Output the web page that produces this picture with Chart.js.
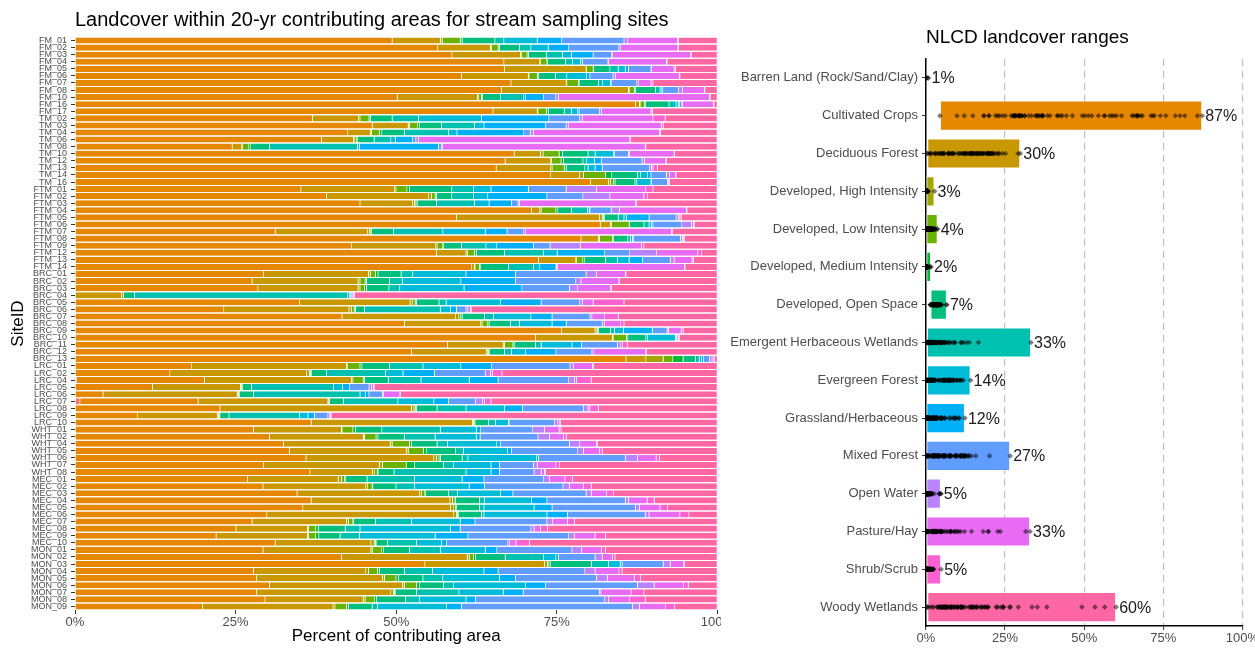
<!DOCTYPE html>
<html>
<head>
<meta charset="utf-8">
<script src="https://cdn.jsdelivr.net/npm/chart.js@4.4.0/dist/chart.umd.min.js"></script>
<style>
  html, body { margin: 0; padding: 0; background: #fff; overflow: hidden; width: 1255px; height: 649px; }
  #leftWrap { position: absolute; left: 0; top: 0; width: 721px; height: 649px; overflow: hidden; }
  #rightWrap { position: absolute; left: 722px; top: 0; width: 533px; height: 649px; overflow: hidden; }
  canvas { position: absolute; left: 0; top: 0; }
</style>
</head>
<body>
<div id="leftWrap"><canvas id="stack" width="735" height="649" style="width:735px;height:649px"></canvas></div>
<div id="rightWrap"><canvas id="ranges" width="538" height="649" style="width:538px;height:649px"></canvas></div>
<script>
// Sampling sites, top to bottom
const siteIds = [
  'FM_01','FM_02','FM_03','FM_04','FM_05','FM_06','FM_07','FM_08','FM_10','FM_16','FM_17',
  'TM_02','TM_03','TM_04','TM_06','TM_08','TM_10','TM_12','TM_13','TM_14','TM_16',
  'FTM_01','FTM_02','FTM_03','FTM_04','FTM_05','FTM_06','FTM_07','FTM_08','FTM_09','FTM_12','FTM_13','FTM_14',
  'BRC_01','BRC_02','BRC_03','BRC_04','BRC_05','BRC_06','BRC_07','BRC_08','BRC_09','BRC_10','BRC_11','BRC_12','BRC_13',
  'LRC_01','LRC_02','LRC_04','LRC_05','LRC_06','LRC_07','LRC_08','LRC_09','LRC_10',
  'WHT_01','WHT_02','WHT_04','WHT_05','WHT_06','WHT_07','WHT_08',
  'MEC_01','MEC_02','MEC_03','MEC_04','MEC_05','MEC_06','MEC_07','MEC_08','MEC_09','MEC_10',
  'MON_01','MON_02','MON_03','MON_04','MON_05','MON_06','MON_07','MON_08','MON_09'
];

// NLCD classes in stacking order
const landcoverClasses = [
  'Barren Land (Rock/Sand/Clay)', 'Cultivated Crops', 'Deciduous Forest',
  'Developed, High Intensity', 'Developed, Low Intensity', 'Developed, Medium Intensity',
  'Developed, Open Space', 'Emergent Herbaceous Wetlands', 'Evergreen Forest',
  'Grassland/Herbaceous', 'Mixed Forest', 'Open Water', 'Pasture/Hay',
  'Shrub/Scrub', 'Woody Wetlands'
];

const classColors = [
  '#F8766D', '#E58700', '#C99800', '#A3A500', '#6BB100', '#00BA38', '#00BF7D',
  '#00C0AF', '#00BCD8', '#00B0F6', '#619CFF', '#B983FF', '#E76BF3', '#FD61D1', '#FF67A4'
];

// Percent of each site's 20-yr contributing area, one array per class (site order as above)
const barren = [0,0,0,0,0,0,0,0,0,0, 0,0,0,0,0,0.3,0,0,0,0, 0,0,0,0,0,0,0,0,0,0, 0,0,0,0,0,0,0,0,0,0,
  0,0,0,0,0,0,0,0,0.3,0, 0,0.8,0,0,0,0,0,0,0,0, 0,0,0,0,0,0,0,0,0,0, 0,0,0,0,0,0,0,0,0,0, 0];
const cultivated = [49.4,56.5,58.7,66.8,66.9,60.2,67.9,66.4,50.2,87.3, 65.1,37.0,46.3,42.5,38.4,24.2,68.4,67.0,65.6,74.1,
  80.3,35.2,39.2,44.4,71.1,59.4,81.8,31.2,78.8,43.1, 56.3,72.2,61.8,29.4,27.6,28.5,0,35.0,23.2,41.6,
  51.3,75.8,71.7,58.0,52.4,85.8,18.2,14.8,19.9,12.1, 4.4,18.4,22.6,9.8,36.8,27.8,30.3,32.5,33.4,36.0,
  29.4,36.6,26.9,29.3,34.6,36.8,35.5,29.9,27.6,25.1, 22.0,31.2,29.3,41.5,54.5,27.8,28.3,30.3,28.3,29.6, 19.9];
const deciduous = [7.5,8.2,10.7,5.6,12.7,10.4,8.6,19.8,12.5,0.6, 6.9,7.2,5.6,3.5,5.0,1.5,4.1,7.1,8.5,4.5,
  2.8,14.6,15.9,8.2,1.3,22.3,1.6,14.4,2.7,13.1, 4.6,5.8,0.4,16.3,16.5,15.6,7.3,17.2,19.5,17.7,
  11.9,5.2,12.0,8.7,11.7,3.1,24.1,21.3,22.9,13.7, 20.9,20.2,29.8,12.4,25.1,13.7,14.6,16.6,18.2,19.9,
  18.0,9.7,14.1,16.0,19.1,21.6,23.0,29.1,14.7,11.1, 14.2,14.9,16.8,19.6,18.6,17.5,19.6,20.7,20.9,15.3, 20.3];
const devHigh = [0.3,0.2,0.1,0.1,0.1,0.1,0.1,0.2,0.2,0.1, 0.1,0.2,0.2,0.2,0.2,0.1,0.4,0.1,0.2,0.6,
  0.3,0.2,0.4,0.3,0.2,0.4,0.1,0.3,0.2,0.2, 0.2,0.1,0.1,0.3,0.3,0.3,0.3,0.4,0.4,0.5,
  0.2,0.3,0.1,0.2,0.2,2.7,0.2,0.4,0.2,0.1, 0.1,0.1,0.4,0.2,0.2,0.1,0.2,0.3,0.3,0.4,
  0.5,0.4,0.5,0.3,0.3,0.4,0.5,0.4,0.3,0.2, 0.2,0.5,0.2,0.3,0.5,0.4,0.3,0.3,0.4,0.3, 0.3];
const devLow = [2.8,1.0,0.9,1.0,1.0,1.3,1.8,0.7,0.4,0.7, 1.3,1.4,1.3,1.2,0.3,1.0,2.5,1.5,1.9,3.4,
  0.5,1.7,0.6,0.2,2.3,0.2,2.8,0.2,2.0,0.9, 1.1,1.0,0.7,0.8,0.8,0.7,0,0.4,0.4,0.3,
  0.9,0.1,2.1,1.3,0.1,1.5,1.9,0.2,1.6,0.1, 0.1,0.1,0.2,0.1,0.1,1.7,1.8,2.7,2.4,0.4,
  3.7,0.4,0.5,0.7,0.5,0.4,0.3,0.2,0.7,1.1, 1.1,0.2,1.5,0.7,0.2,1.4,1.8,1.9,0.2,1.5, 1.8];
const devMedium = [0.3,0.2,0.2,0.1,0.1,0.2,0.1,0.2,0.2,0.1, 0.3,0.2,0.3,0.4,0.1,0.3,0.5,0.4,0.3,1.0,
  0.2,0.4,0.2,0.2,0.3,0.2,0.1,0.1,0.2,0.1, 0.3,0.3,0.2,0.4,0.2,0.3,0,0.2,0.2,0.2,
  0.2,0.1,0.2,0.2,0.1,1.6,0.3,0.1,0.2,0.1, 0.1,0.1,0.2,0.1,0.1,0.4,0.3,0.3,0.5,0.2,
  1.3,0.1,0.2,0.1,0.1,0.1,0.1,0.1,0.1,0.4, 0.5,0.1,0.3,0.3,0.2,0.3,0.4,0.5,0.1,0.3, 0.3];
const devOpen = [5.1,3.1,2.8,2.8,2.5,2.6,3.0,3.1,2.8,3.7, 2.5,3.4,3.4,3.5,2.6,2.9,4.0,3.0,2.9,4.0,
  3.1,6.6,2.4,3.0,2.1,2.1,2.2,3.4,2.2,2.8, 4.4,3.2,4.3,3.6,3.6,3.5,1.7,3.5,1.4,3.5,
  3.3,1.9,2.8,3.3,2.4,1.9,4.3,2.4,3.7,1.4, 2.2,2.1,3.2,1.4,2.1,4.1,4.1,4.0,4.5,3.4,
  4.5,2.5,3.3,3.6,3.6,3.7,3.6,3.6,3.4,4.2, 3.3,1.8,4.0,4.6,6.4,3.9,3.8,3.7,3.3,4.5, 3.7];
const emergentWetlands = [1.4,1.8,2.5,1.1,1.3,1.8,0.7,0.7,3.6,1.1, 1.1,4.1,5.1,6.9,2.6,13.7,1.1,0.6,0.5,0.5,
  0.3,3.4,3.4,5.9,2.5,0.9,0.8,7.7,0.4,3.8, 6.1,1.9,3.9,1.8,2.0,1.7,33.2,1.1,11.8,1.4,
  1.4,0.6,0.3,0.9,1.1,0.6,5.2,9.2,5.1,12.8, 16.6,8.5,4.5,11.0,1.1,9.1,4.8,1.6,1.2,0.9,
  1.6,11.2,7.4,2.9,1.4,0.8,0.7,0.4,5.6,2.3, 3.0,4.5,4.8,6.0,2.7,4.4,3.1,1.6,6.6,2.2, 0.8];
const evergreen = [5.2,2.7,1.4,1.2,1.1,3.1,1.2,0.3,0.3,0.4, 1.0,9.8,1.5,1.3,0.7,0.3,2.9,1.2,1.1,1.1,
  2.2,2.7,2.2,2.3,0.3,0.4,0.4,6.6,0.3,1.7, 2.1,1.8,1.0,8.3,9.1,10.0,0.3,8.5,1.6,5.8,
  5.1,1.4,4.3,4.8,2.2,0.4,5.9,2.7,7.5,1.4, 0.9,5.6,6.0,1.3,2.0,5.6,6.4,7.7,6.9,10.7,
  5.8,3.9,7.4,8.5,6.7,7.3,7.8,9.8,7.6,14.1, 11.8,3.9,7.0,1.9,1.8,8.0,8.8,11.2,6.9,7.2, 10.8];
const grassland = [3.8,3.2,3.4,0.3,0.5,0.5,0.2,0.1,2.8,0.1, 0.2,10.5,9.6,10.4,2.7,12.3,0.1,1.1,1.1,0.5,
  0.1,5.8,9.2,3.5,0.1,3.5,0.2,3.4,0.2,5.7, 7.4,2.1,2.5,7.7,8.5,9.0,0.1,6.3,0.9,3.3,
  2.2,4.5,0.1,1.5,4.7,0.3,4.8,4.9,4.5,1.1, 0.5,2.3,2.8,1.0,0.1,0.7,0.6,0.6,0.6,0.3,
  1.3,1.3,3.4,2.4,1.9,2.4,2.8,3.2,2.3,1.5, 5.1,0.8,1.8,0.4,0.3,2.2,2.5,3.1,3.1,1.5, 2.3];
const mixedForest = [9.7,7.8,2.9,4.0,3.5,3.6,3.9,2.5,1.9,0.4, 3.2,4.8,3.2,1.0,0.5,0.5,2.2,6.3,7.4,2.4,
  2.5,5.9,5.6,1.0,3.3,4.2,4.5,2.6,7.3,2.6, 3.9,4.3,0.1,11.0,9.4,7.4,0.1,6.0,1.5,5.9,
  5.6,2.3,0.1,5.6,5.6,0.9,12.2,7.9,11.0,3.0, 2.1,4.2,9.5,2.1,7.1,8.1,9.0,10.7,10.3,13.5,
  5.3,5.4,9.3,12.2,11.4,12.2,13.0,12.1,11.2,11.0, 15.7,9.5,11.7,5.7,6.4,13.5,12.6,14.3,11.9,20.1, 26.6];
const openWater = [0.6,0.3,0.1,0.1,0.1,0.4,0.3,0.6,0.4,0.1, 0.3,0.4,0.4,0.5,0.4,0.2,0.2,0.4,0.3,0.5,
  0.1,4.7,4.2,0.2,1.3,0.4,1.5,0.3,0.3,4.7, 4.2,0.6,0.1,1.6,0.8,1.3,0.3,0.4,0.3,0.3,
  0.4,0.2,0.2,0.5,0.3,0.4,0.5,0.8,0.9,0.4, 0.2,1.1,0.7,0.3,0.5,1.8,1.8,1.6,0.9,1.9,
  0.6,1.1,0.9,1.0,0.8,0.5,0.6,0.6,0.9,0.5, 0.9,0.3,1.5,1.1,1.1,1.6,1.7,2.6,0.2,0.6, 1.1];
const pastureHay = [7.7,8.9,12.2,9.0,3.5,9.9,1.9,3.4,23.5,4.8, 7.7,11.0,14.4,19.6,32.9,31.5,6.9,3.3,0.2,0.9,
  0.1,7.7,5.3,18.1,10.4,0.2,0.3,22.7,0.2,9.5, 6.4,2.8,19.8,4.5,5.9,5.1,0.1,1.7,0.4,2.0,
  2.5,2.0,0.1,0.3,8.1,0.3,3.0,0.3,0.3,0.3, 2.5,0.3,0.3,0.1,0.3,2.3,2.2,2.6,2.5,2.9,
  2.9,0.5,2.4,2.2,2.4,2.9,3.2,4.8,2.3,1.0, 3.2,1.0,3.1,1.6,2.1,3.7,4.2,4.6,4.7,3.3, 4.1];
const shrubScrub = [0.2,0.1,0.1,0.1,0.2,0.1,0.3,0.1,0.1,0.1, 0.2,1.9,0.3,0.2,0.1,0.1,0.1,0.1,0.7,0.1,
  0.1,1.1,0.6,0.2,0.1,0.2,0.2,0.1,0.1,0.4, 0.6,0.2,0.1,0.1,0.1,0.2,0.1,4.8,0.2,2.1,
  0.5,0.3,0.1,0.7,0.1,0.1,0.2,1.5,2.3,0.1, 0.1,1.0,1.3,0.1,0.1,0.3,0.4,0.2,0.4,0.5,
  0.6,0.2,1.2,1.2,1.1,1.1,1.2,1.4,1.1,1.1, 1.6,2.1,0.6,0.4,0.1,0.5,1.0,0.7,2.0,2.4, 1.4];
const woodyWetlands = [6.0,6.0,4.0,7.8,6.5,5.8,10.0,1.9,1.1,0.5, 10.1,8.1,8.4,8.8,13.5,11.1,6.6,7.9,9.3,6.4,
  7.4,10.0,10.8,12.5,4.7,5.6,3.5,7.0,5.1,11.4, 2.4,3.7,5.0,14.2,15.2,16.4,56.5,14.5,38.2,15.4,
  14.5,5.3,5.9,14.0,11.0,0.4,19.2,33.5,19.6,53.4, 49.3,35.2,18.5,60.1,24.4,24.3,23.5,18.6,17.9,9.0,
  24.5,26.7,22.5,19.6,16.1,9.8,7.7,4.4,22.2,26.4, 17.4,29.2,17.4,15.9,5.1,14.8,11.9,4.5,11.4,11.2, 6.6];

const percentTicks = [0, 25, 50, 75, 100];

const classValues = [barren, cultivated, deciduous, devHigh, devLow, devMedium, devOpen,
  emergentWetlands, evergreen, grassland, mixedForest, openWater, pastureHay, shrubScrub, woodyWetlands];

const FONT = '"Liberation Sans", Arial, Helvetica, sans-serif';
Chart.defaults.font.family = FONT;
Chart.defaults.color = '#4d4d4d';

function panelTitle(text, y, size) {
  return {
    id: 'panelTitle',
    afterDraw(chart) {
      const ctx = chart.ctx;
      ctx.save();
      ctx.font = size + 'px ' + FONT;
      ctx.fillStyle = '#000';
      ctx.textBaseline = 'middle';
      ctx.textAlign = 'left';
      ctx.fillText(text, chart.chartArea.left, y);
      ctx.restore();
    }
  };
}

const percentLabel = v => percentTicks.includes(v) ? v + '%' : '';

// ---- Stacked landcover composition per site ----
new Chart(document.getElementById('stack'), {
  type: 'bar',
  data: {
    labels: siteIds,
    datasets: landcoverClasses.map((name, i) => ({
      label: name,
      data: classValues[i],
      backgroundColor: classColors[i],
      borderColor: 'rgba(255,255,255,0.75)',
      borderWidth: { top: 0, bottom: 0, left: 0, right: 0.6 },
      borderSkipped: false,
      barPercentage: 1,
      categoryPercentage: 0.86
    }))
  },
  options: {
    responsive: false,
    animation: false,
    indexAxis: 'y',
    layout: { padding: { top: 37, left: 0, right: 0, bottom: 0 } },
    plugins: { legend: { display: false }, tooltip: { enabled: false } },
    scales: {
      x: {
        stacked: true, min: 0, max: 100,
        ticks: { stepSize: 25, callback: percentLabel, color: '#4d4d4d', font: { size: 13 }, padding: 1, maxRotation: 0 },
        grid: { drawOnChartArea: false, drawTicks: true, tickLength: 4, tickColor: '#333', tickWidth: 1 },
        border: { display: false },
        title: { display: true, text: 'Percent of contributing area', color: '#000', font: { size: 17 }, padding: { top: 0, bottom: 2 } },
        afterFit: s => { s.height = 39; }
      },
      y: {
        stacked: true,
        ticks: { autoSkip: false, color: '#4d4d4d', font: { size: 9 }, padding: 4 },
        grid: { drawOnChartArea: false, offset: false, tickLength: 4, tickColor: '#333', tickWidth: 1 },
        border: { display: false },
        title: { display: true, text: 'SiteID', color: '#000', font: { size: 17 }, padding: { top: 8, bottom: 0 } },
        afterFit: s => { s.width = 75; }
      }
    }
  },
  plugins: [panelTitle('Landcover within 20-yr contributing areas for stream sampling sites', 20, 20)]
});

// ---- Range of each class across sites (floating bar) with site values as points ----
const rangeData = classValues.map(vals => {
  const present = vals.filter(v => v > 0);
  return [Math.min(...present), Math.max(...present)];
});
const sitePoints = [];
classValues.forEach((vals, i) => {
  vals.forEach(v => { if (v > 0) sitePoints.push({ x: v, y: landcoverClasses[i] }); });
});

const rangeLabels = {
  id: 'rangeLabels',
  afterDatasetsDraw(chart) {
    const meta = chart.getDatasetMeta(1);
    const ctx = chart.ctx;
    ctx.save();
    ctx.font = '16px ' + FONT;
    ctx.fillStyle = '#1a1a1a';
    ctx.textBaseline = 'middle';
    ctx.textAlign = 'left';
    meta.data.forEach((bar, i) => {
      const end = Math.max(bar.x, bar.base);
      ctx.fillText(Math.round(rangeData[i][1]) + '%', end + 3, bar.y + 1);
    });
    ctx.restore();
  }
};

new Chart(document.getElementById('ranges'), {
  type: 'bar',
  data: {
    labels: landcoverClasses,
    datasets: [
      {
        type: 'scatter',
        indexAxis: 'x',
        data: sitePoints,
        pointStyle: 'rectRot',
        radius: 2.8,
        backgroundColor: 'rgba(0,0,0,0.5)',
        borderWidth: 0,
        order: 0
      },
      {
        type: 'bar',
        data: rangeData,
        backgroundColor: classColors,
        borderColor: 'rgba(255,255,255,0.4)',
        borderWidth: 1,
        borderSkipped: false,
        barPercentage: 0.8,
        categoryPercentage: 1,
        order: 1
      }
    ]
  },
  options: {
    responsive: false,
    animation: false,
    indexAxis: 'y',
    layout: { padding: { top: 59, left: 0, right: 0, bottom: 0 } },
    plugins: { legend: { display: false }, tooltip: { enabled: false } },
    scales: {
      x: {
        type: 'linear', min: 0, max: 100,
        ticks: { stepSize: 25, callback: percentLabel, color: '#4d4d4d', font: { size: 13 }, padding: 1, maxRotation: 0 },
        grid: {
          color: c => (c.tick && c.tick.value === 0) ? 'rgba(0,0,0,0)' : '#bdbdbd',
          lineWidth: 1.2, drawTicks: true, tickLength: 4, tickColor: '#333', tickWidth: 1
        },
        border: { display: true, color: '#000', width: 1.5, dash: [7, 5] },
        afterFit: s => { s.height = 23; }
      },
      y: {
        type: 'category',
        ticks: { autoSkip: false, color: '#4d4d4d', font: { size: 13 }, padding: 4 },
        grid: { drawOnChartArea: false, offset: false, tickLength: 4, tickColor: '#333', tickWidth: 1 },
        border: { display: true, color: '#000', width: 1.5 },
        afterFit: s => { s.width = 204; }
      }
    }
  },
  plugins: [panelTitle('NLCD landcover ranges', 38, 19), rangeLabels]
});
</script>
</body>
</html>
